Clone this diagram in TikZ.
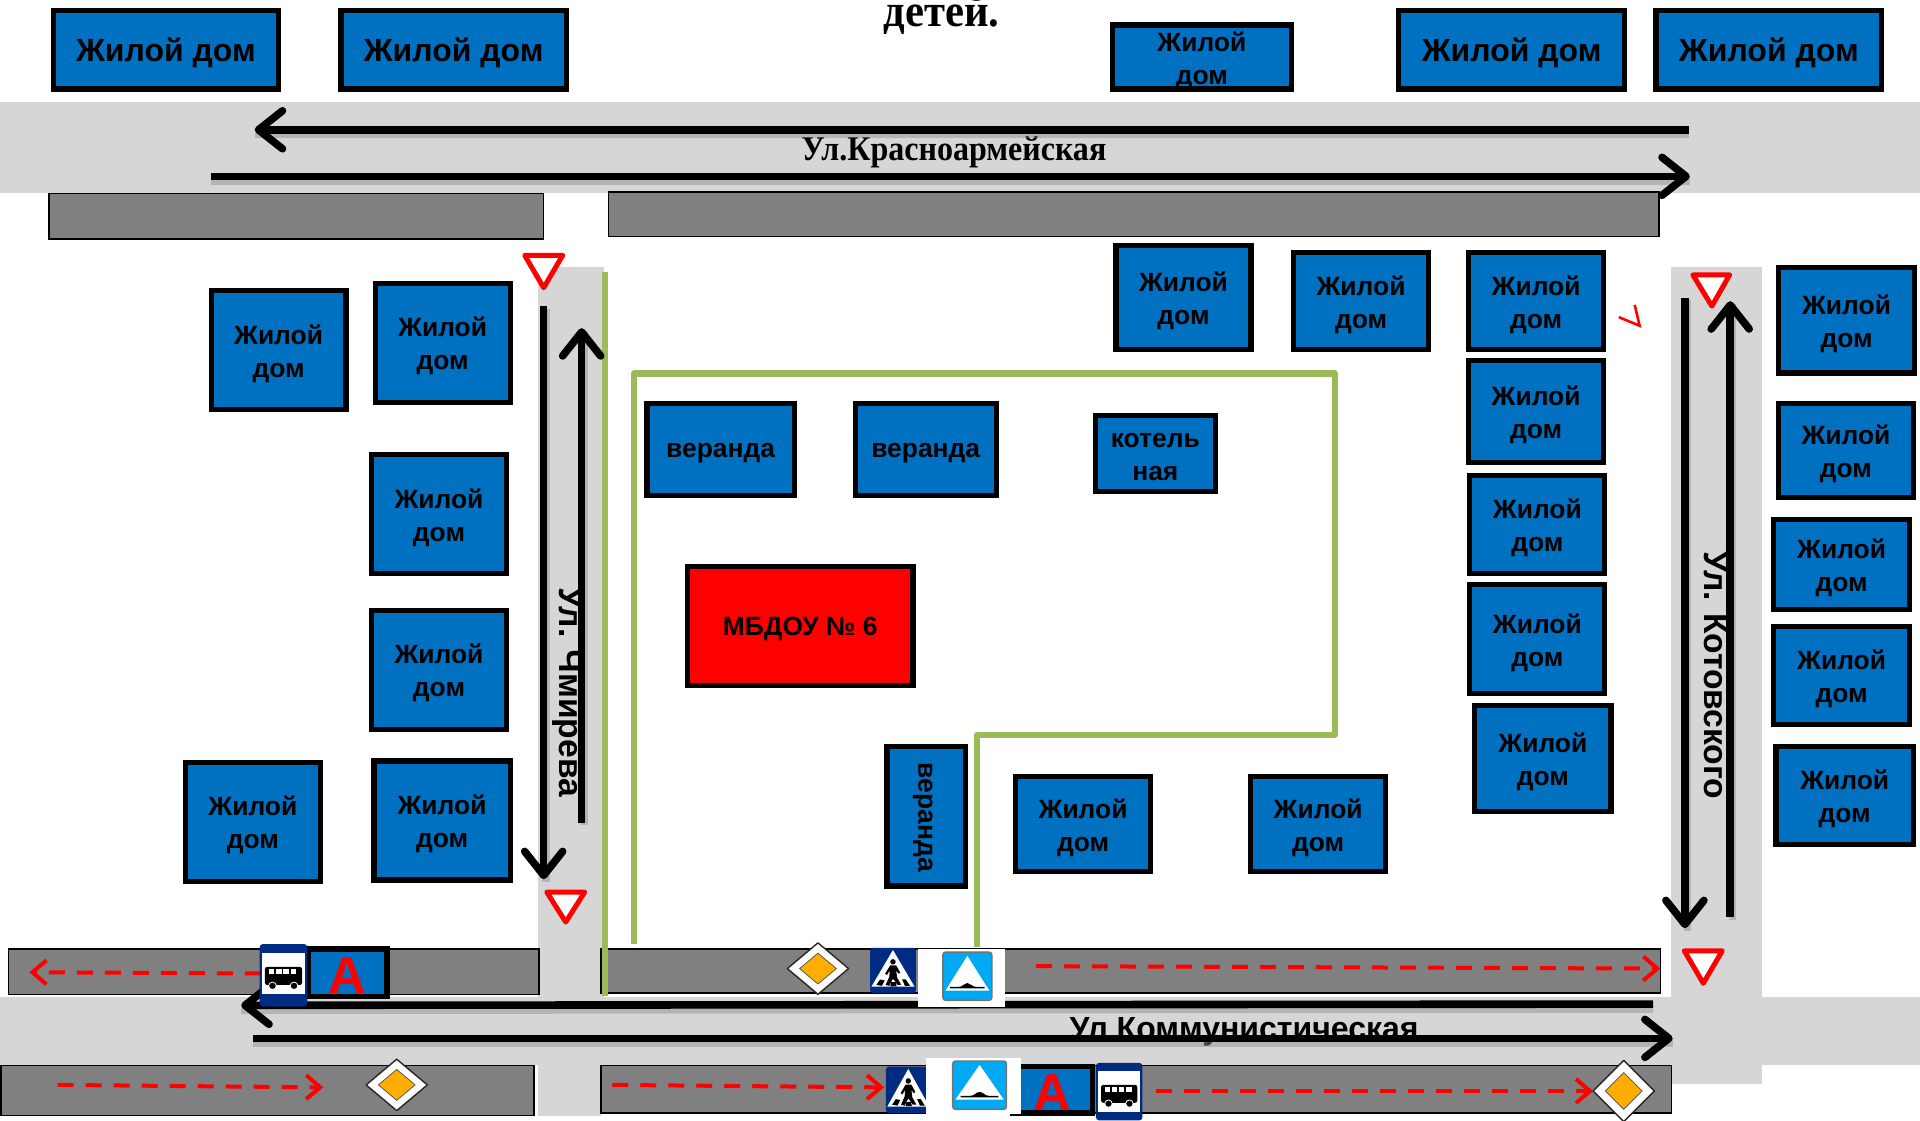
\documentclass[tikz,border=0pt]{standalone}
\usepackage{fontspec}
\setmainfont{Liberation Sans}
\newfontfamily\serifb[Scale=1]{Liberation Serif}
\usetikzlibrary{arrows.meta,calc}
\definecolor{roadc}{HTML}{D6D6D6}
\definecolor{blockc}{HTML}{808080}
\definecolor{housec}{HTML}{0070C0}
\definecolor{fencec}{HTML}{9BBB59}
\definecolor{navyc}{HTML}{002B82}
\definecolor{skyc}{HTML}{00A9F4}
\definecolor{prioc}{HTML}{FFAD00}
\newcommand{\house}[6]{%
  \pgfmathsetmacro{\hw}{(#4-#2-2.8)*0.61224}\pgfmathsetmacro{\hh}{(#5-#3-2.8)*0.61224}%
  \node[housebox,minimum width=\hw pt,minimum height=\hh pt] (#1) at ({(#2+#4)/2},{(#3+#5)/2}) {};
  \node[houselabel] (#1t) at ($(#1)+(0,2.8)$) {#6};}
\newcommand{\blockr}[5]{%
  \pgfmathsetmacro{\hw}{(#4-#2)*0.61224}\pgfmathsetmacro{\hh}{(#5-#3)*0.61224}%
  \node[blockbox,minimum width=\hw pt,minimum height=\hh pt] (#1) at ({(#2+#4)/2},{(#3+#5)/2}) {};}
\newcommand{\blkarrow}[7]{%
  \coordinate (#1s) at (#2,#3);\coordinate (#1e) at (#4,#5);
  \draw[arrowshadow] ($(#1s)+(#6,#7)$) -- ($(#1e)+(#6,#7)$);
  \draw[roadarrow] (#1s) -- (#1e);}
\newcommand{\redarrow}[5]{%
  \coordinate (#1s) at (#2,#3);\coordinate (#1e) at (#4,#5);
  \draw[reddash] (#1s) -- (#1e);}
\newcommand{\yieldsign}[7]{\draw[yieldst] (#2,#3) -- (#4,#5) -- (#6,#7) -- cycle;}
\newcommand{\priosign}[5]{%
  \begin{scope}[shift={(#2,#3)},xscale=#4,yscale=#5]
    \draw[fill=white,draw=black!85,line width=.7pt,line join=round] (-1,0) -- (0,-1) -- (1,0) -- (0,1) -- cycle;
    \draw[fill=prioc,draw=black!70,line width=.35pt] (-.6,0) -- (0,-.6) -- (.6,0) -- (0,.6) -- cycle;
  \end{scope}}
\newcommand{\pedsign}[4]{%
  \pgfmathsetmacro{\sx}{(#3-#1)/100}\pgfmathsetmacro{\sy}{(#4-#2)/100}%
  \begin{scope}[shift={(#1,#2)},xscale=\sx,yscale=\sy]
    \fill[navyc,rounded corners=1.6pt] (0,0) rectangle (100,100);
    \fill[white] (50,5) -- (97,86) -- (3,86) -- cycle;
    \fill[black] (50,31) circle (6);
    \fill[black] (44,39) -- (57,39) -- (66,55) -- (62,57) -- (57,50) -- (59,66) -- (68,82) -- (60,82) -- (50,68) -- (42,84) -- (34,82) -- (42,64) -- (43,50) -- (37,60) -- (33,57) -- cycle;
    \fill[black] (14,82) -- (22,70) -- (32,72) -- (26,84) -- cycle;
    \fill[black] (70,70) -- (78,70) -- (87,84) -- (76,84) -- cycle;
    \fill[black] (46,76) -- (56,76) -- (58,85) -- (44,85) -- cycle;
  \end{scope}}
\newcommand{\bumpsign}[8]{%
  \fill[white] (#1,#2) rectangle (#3,#4);
  \pgfmathsetmacro{\sx}{(#7-#5)/100}\pgfmathsetmacro{\sy}{(#8-#6)/100}%
  \begin{scope}[shift={(#5,#6)},xscale=\sx,yscale=\sy]
    \draw[fill=skyc,draw=black!55,line width=.7pt,rounded corners=1.4pt] (0,0) rectangle (100,100);
    \fill[white] (50,8) -- (95,80) -- (5,80) -- cycle;
    \fill[black] (15,72) -- (32,72) .. controls (42,72) and (42,64) .. (50,64) .. controls (58,64) and (58,72) .. (68,72) -- (85,72) -- (85,75) -- (15,75) -- cycle;
  \end{scope}}
\newcommand{\bussign}[6]{%
  \pgfmathsetmacro{\sx}{(#3-#1)/100}\pgfmathsetmacro{\sy}{(#4-#2)/100}%
  \begin{scope}[shift={(#1,#2)},xscale=\sx,yscale=\sy]
    \fill[navyc,rounded corners=1.6pt] (0,0) rectangle (100,100);
    \fill[white] (5,#5) rectangle (95,#6);
    \begin{scope}[shift={(0,#5)},yscale={(#6-#5)/100}]
      \fill[black,rounded corners=1.2pt] (11,34) rectangle (89,78);
      \fill[white] (20,39) rectangle (31,51);\fill[white] (35,39) rectangle (46,51);\fill[white] (50,39) rectangle (61,51);\fill[white] (65,39) rectangle (77,51);
      \draw[fill=black,draw=white,line width=.4pt] (27,80) ellipse (8 and 9);
      \draw[fill=black,draw=white,line width=.4pt] (72,80) ellipse (8 and 9);
    \end{scope}
  \end{scope}}
\newcommand{\abox}[5]{%
  \pgfmathsetmacro{\hw}{(#4-#2-4)*0.61224}\pgfmathsetmacro{\hh}{(#5-#3-4)*0.61224}%
  \node[aboxst,minimum width=\hw pt,minimum height=\hh pt] (#1) at ({(#2+#4)/2},{(#3+#5)/2}) {};
  \node[alabel] (#1t) at ($(#1)+(0,2)$) {А};}
\tikzset{
  road/.style={fill=roadc,draw=none},
  housebox/.style={draw=black,fill=housec,line width=2.6pt,inner sep=0pt},
  houselabel/.style={inner sep=0pt,align=center,text=black,font=\fontsize{13.2}{16.5}\selectfont\bfseries},
  blockbox/.style={draw=black,fill=blockc,line width=.8pt,inner sep=0pt},
  redbox/.style={draw=black,fill=red,line width=2.6pt,inner sep=0pt},
  aboxst/.style={draw=black,fill=housec,line width=2.6pt,inner sep=0pt},
  alabel/.style={inner sep=0pt,text=red,font=\fontsize{26}{28}\selectfont\bfseries},
  fence/.style={draw=fencec,line width=3.1pt},
  roadarrow/.style={draw=black,line width=3.8pt,-{Straight Barb[length=12pt,width=19pt,round]}},
  arrowshadow/.style={draw=black!45,opacity=.45,line width=3.8pt},
  reddash/.style={draw=red,line width=2pt,dash pattern=on 8pt off 6pt,-{Straight Barb[length=7pt,width=12pt]}},
  yieldst/.style={draw=red,fill=white,line width=2.5pt,line join=round},
  roadlabel/.style={inner sep=0pt,text=black,font=\fontsize{17}{20}\selectfont\bfseries},
  seriflabel/.style={inner sep=0pt,text=black,font=\serifb\fontsize{17.5}{20}\selectfont\bfseries,xscale=.915}
}
\begin{document}
\begin{tikzpicture}[x=0.61224pt,y=-0.61224pt]
\useasboundingbox[fill=white] (0,0) rectangle (1568,914.67);
% roads
\fill[road] (0,83) rectangle (1568,158);
\fill[road] (0,814) rectangle (1568,870);
\fill[road] (439,218) rectangle (493,815);
\fill[road] (439,870) rectangle (491,911);
\fill[road] (1365,218) rectangle (1439,885);
% grey blocks
\blockr{b1}{40}{158}{444}{195}
\blockr{b2}{497}{157}{1355}{193}
\blockr{b3}{7}{775}{440}{812}
\blockr{b4}{491}{775}{1356}{811}
\blockr{b5}{1}{870}{436}{911}
\blockr{b6}{491}{870}{1365}{909}
% title
\node[seriflabel,font=\serifb\fontsize{23}{26}\selectfont\bfseries,xscale=1.015] (title) at (769,12) {детей.};
% houses top
\house{h1}{42}{7}{229}{74}{\fontsize{16}{20}\selectfont Жилой дом}
\house{h2}{277}{7}{464}{74}{\fontsize{16}{20}\selectfont Жилой дом}
\house{h3}{907}{19}{1056}{74}{Жилой\\дом}
\house{h4}{1141}{7}{1328}{74}{\fontsize{16}{20}\selectfont Жилой дом}
\house{h5}{1351}{7}{1538}{74}{\fontsize{16}{20}\selectfont Жилой дом}
% houses left
\house{h6}{171}{236}{284}{336}{Жилой\\дом}
\house{h7}{305}{230}{418}{330}{Жилой\\дом}
\house{h8}{302}{370}{415}{470}{Жилой\\дом}
\house{h9}{302}{497}{415}{597}{Жилой\\дом}
\house{h10}{150}{621}{263}{721}{Жилой\\дом}
\house{h11}{304}{620}{418}{720}{Жилой\\дом}
% houses right
\house{h12}{910}{199}{1023}{287}{Жилой\\дом}
\house{h13}{1055}{205}{1168}{287}{Жилой\\дом}
\house{h14}{1198}{205}{1311}{287}{Жилой\\дом}
\house{h15}{1198}{293}{1311}{379}{Жилой\\дом}
\house{h16}{1199}{387}{1312}{470}{Жилой\\дом}
\house{h17}{1199}{476}{1312}{568}{Жилой\\дом}
\house{h18}{1203}{575}{1317}{664}{Жилой\\дом}
\house{h19}{1451}{217}{1565}{306}{Жилой\\дом}
\house{h20}{1451}{328}{1564}{408}{Жилой\\дом}
\house{h21}{1447}{423}{1561}{499}{Жилой\\дом}
\house{h22}{1447}{510}{1561}{593}{Жилой\\дом}
\house{h23}{1449}{608}{1564}{691}{Жилой\\дом}
\house{h24}{828}{633}{941}{713}{Жилой\\дом}
\house{h25}{1020}{633}{1133}{713}{Жилой\\дом}
% kindergarten buildings
\house{v1}{527}{328}{650}{406}{веранда}
\house{v2}{697}{328}{815}{406}{веранда}
\house{k1}{893}{338}{994}{403}{котель\\ная}
\house{v3}{723}{608}{790}{725}{}
\node[houselabel,rotate=-90] (v3r) at (753.5,667.5) {веранда};
\pgfmathsetmacro{\hw}{(747-560-2.8)*0.61224}\pgfmathsetmacro{\hh}{(561-461-2.8)*0.61224}
\node[redbox,minimum width=\hw pt,minimum height=\hh pt] (main) at (653.5,511) {};
\node[houselabel] (maint) at (653.5,513.5) {МБДОУ № 6};
% fence
\coordinate (f0) at (518,771);\coordinate (f1) at (518,305);\coordinate (f2) at (1090,305);\coordinate (f3) at (1090,600);\coordinate (f4) at (798,600);\coordinate (f5) at (798,773);
\draw[fence,line join=round] (f0) -- (f1) -- (f2) -- (f3) -- (f4) -- (f5);
\coordinate (f6) at (494,222);\coordinate (f7) at (494,813);
\draw[fence,line width=2.6pt] (f6) -- (f7);
% labels
\node[seriflabel] (lred) at (779,124.5) {Ул.Красноармейская};
\node[roadlabel,font=\fontsize{16}{20}\selectfont\bfseries] (lcom) at (1016,842.5) {Ул Коммунистическая};
\node[roadlabel,rotate=-90,font=\fontsize{16.8}{20}\selectfont\bfseries] (lchm) at (463.5,565.5) {Ул. Чмирева};
\node[roadlabel,rotate=-90,font=\fontsize{16.8}{20}\selectfont\bfseries] (lkot) at (1401.5,551.5) {Ул. Котовского};
% black arrows
\blkarrow{a1}{1379}{106}{208}{106}{0}{4}
\blkarrow{a2}{172}{144}{1380}{144}{0}{4}
\blkarrow{a3}{444}{250}{444}{718}{2}{2}
\blkarrow{a4}{475}{672}{475}{268}{2}{2}
\blkarrow{a5}{1376}{243}{1376}{758}{2}{2}
\blkarrow{a6}{1413}{749}{1413}{246}{2}{2}
\blkarrow{a7}{1350}{820}{197}{821}{0}{4}
\blkarrow{a8}{207}{848}{1366}{848}{0}{4}
% red dashed arrows
\redarrow{r1}{213}{795}{24}{794}
\redarrow{r2}{846}{789}{1356}{791}
\redarrow{r3}{47}{886}{264}{888}
\redarrow{r4}{500}{886}{722}{888}
\redarrow{r5}{944}{891}{1301}{891}
% yield signs
\yieldsign{y1}{428.5}{208.5}{459.5}{208.5}{444}{235}
\yieldsign{y2}{446.5}{728.5}{477.5}{728.5}{462}{753}
\yieldsign{y3}{1382.5}{224.5}{1412.5}{224.5}{1398}{250}
\yieldsign{y4}{1375.5}{776.5}{1406.5}{776.5}{1391}{803}
\draw[draw=red,line width=1.3pt,line join=miter] (1322,259) -- (1339,266) -- (1335,249);
% A boxes
\abox{a9}{250}{773}{318}{816}
\abox{a10}{825}{869}{894}{911}
% signs
\priosign{p1}{668}{791}{25}{21}
\priosign{p2}{324}{886}{25}{21}
\priosign{p3}{1326}{891}{25}{25}
\pedsign{710.5}{774}{748}{811}
\pedsign{723.5}{871}{760}{909}
\bumpsign{750}{775}{821}{822}{770}{777.5}{810}{817}
\bumpsign{756}{864}{834}{910}{778}{866.5}{822}{906}
\bussign{212}{771}{251}{822}{14}{80}
\bussign{895}{868}{933}{915}{14}{85}
\end{tikzpicture}
\end{document}
